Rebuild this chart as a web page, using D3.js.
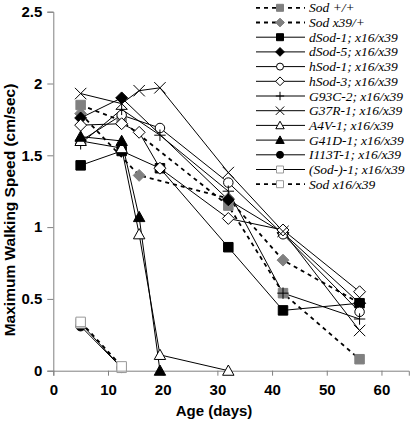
<!DOCTYPE html>
<html>
<head>
<meta charset="utf-8">
<script src="https://cdn.jsdelivr.net/npm/d3@7"></script>
<style>
  html, body { margin: 0; padding: 0; background: #fff; }
  svg { display: block; }
</style>
</head>
<body>
<svg id="chart" width="410" height="424"></svg>
<script>
// ---- data (age in days, max walking speed in cm/sec) ----
const sodWT   = [[5,1.85],[12.5,1.74],[32,1.15],[42,0.54],[56,0.08]];
const sodX39  = [[5,1.79],[15.7,1.36],[32,1.20],[42,0.77],[56,0.47]];
const dSod1   = [[5,1.43],[12.5,1.53],[19.5,1.41],[32,0.86],[42,0.42],[56,0.47]];
const dSod5   = [[5,1.76],[12.5,1.90],[32,1.19],[42,0.96],[56,0.47]];
const hSod1   = [[5,1.60],[12.5,1.78],[19.5,1.69],[32,1.31],[42,0.95],[56,0.41]];
const hSod3   = [[5,1.71],[12.5,1.72],[15.7,1.66],[19.5,1.41],[32,1.06],[42,0.98],[56,0.55]];
const g93c2   = [[5,1.58],[12.5,1.82],[19.5,1.64],[32,1.25],[42,0.54],[56,0.36]];
const g37r1   = [[5,1.93],[12.5,1.86],[15.7,1.95],[19.5,1.97],[32,1.38],[42,0.97],[56,0.28]];
const a4v1    = [[5,1.60],[12.5,1.55],[15.7,0.95],[19.5,0.11],[32,0.00]];
const g41d1   = [[5,1.63],[12.5,1.60],[15.7,1.07],[19.5,0.00]];
const i113t1  = [[5,0.31],[12.5,0.02]];
const sodNull = [[5,0.33],[12.5,0.02]];
const sodX16  = [[5,0.34],[12.5,0.03]];

const seriesNames = ["Sod +/+","Sod x39/+","dSod-1; x16/x39","dSod-5; x16/x39","hSod-1; x16/x39",
  "hSod-3; x16/x39","G93C-2; x16/x39","G37R-1; x16/x39","A4V-1; x16/x39","G41D-1; x16/x39",
  "I113T-1; x16/x39","(Sod-)-1; x16/x39","Sod x16/x39"];
const seriesData = [sodWT,sodX39,dSod1,dSod5,hSod1,hSod3,g93c2,g37r1,a4v1,g41d1,i113t1,sodNull,sodX16];

const xTicks = [0,10,20,30,40,50,60];
const yTicks = [0,0.5,1,1.5,2,2.5];
const yTickLabels = ["0","0.5","1","1.5","2","2.5"];

// ---- styles ----
const styles = [
  {shape:"square",  fill:"#808080", stroke:"#808080", dash:"4,4", lw:1.8},
  {shape:"diamond", fill:"#808080", stroke:"#808080", dash:"4,4", lw:1.8},
  {shape:"square",  fill:"#000", stroke:"#000", dash:null, lw:1},
  {shape:"diamond", fill:"#000", stroke:"#000", dash:null, lw:1},
  {shape:"circle",  fill:"#fff", stroke:"#000", dash:null, lw:1},
  {shape:"diamond", fill:"#fff", stroke:"#000", dash:null, lw:1},
  {shape:"plus",    fill:"none", stroke:"#000", dash:null, lw:1},
  {shape:"x",       fill:"none", stroke:"#000", dash:null, lw:1},
  {shape:"triangle",fill:"#fff", stroke:"#000", dash:null, lw:1},
  {shape:"triangle",fill:"#000", stroke:"#000", dash:null, lw:1},
  {shape:"circle",  fill:"#000", stroke:"#000", dash:null, lw:1},
  {shape:"square",  fill:"#fff", stroke:"#999", dash:null, lw:1},
  {shape:"square",  fill:"#fff", stroke:"#999", dash:"4,4", lw:1.8}
];

function shapePath(shape, s) {
  const h = s/2;
  switch(shape) {
    case "square":   return `M${-h},${-h}H${h}V${h}H${-h}Z`;
    case "diamond":  { const d = h*1.25; return `M0,${-d}L${d},0L0,${d}L${-d},0Z`; }
    case "circle":   return `M${h},0A${h},${h} 0 1,1 ${-h},0A${h},${h} 0 1,1 ${h},0Z`;
    case "triangle": { const t = h*1.2; return `M0,${-t}L${t},${t*0.8}L${-t},${t*0.8}Z`; }
    case "plus":     { const p = h*1.2; return `M${-p},0H${p}M0,${-p}V${p}`; }
    case "x":        { const p = h*1.2; return `M${-p},${-p}L${p},${p}M${p},${-p}L${-p},${p}`; }
  }
}

const svg = d3.select("#chart");
const x = d3.scaleLinear().domain([0,65]).range([53.3,408.8]);
const y = d3.scaleLinear().domain([0,2.5]).range([370.7,11.7]);

// axes
const yAxis = d3.axisLeft(y).tickValues(yTicks).tickFormat((d,i)=>yTickLabels[i]).tickSizeOuter(0).tickSize(6).tickPadding(5);
const xAxis = d3.axisBottom(x).tickValues(xTicks).tickFormat(d=>String(d)).tickSizeOuter(0).tickSize(5).tickPadding(9);

const gy = svg.append("g").attr("transform","translate(53.3,0)").call(yAxis);
const gx = svg.append("g").attr("transform","translate(0,370.7)").call(xAxis);
[gx, gy].forEach(g => {
  g.select(".domain").attr("stroke","#808080").attr("stroke-width",1);
  g.selectAll(".tick line").attr("stroke","#808080");
  g.selectAll(".tick text").attr("fill","#000")
    .style("font-family","'Liberation Sans', Arial, sans-serif")
    .style("font-weight","bold").style("font-size","15px");
});

// axis titles
svg.append("text").attr("x",214).attr("y",416).attr("text-anchor","middle")
  .style("font-family","'Liberation Sans', Arial, sans-serif").style("font-weight","bold").style("font-size","15px")
  .text("Age (days)");
svg.append("text").attr("transform","translate(15,210) rotate(-90)").attr("text-anchor","middle")
  .style("font-family","'Liberation Sans', Arial, sans-serif").style("font-weight","bold").style("font-size","15.5px")
  .text("Maximum Walking Speed (cm/sec)");

// lines
const line = d3.line().x(d=>x(d[0])).y(d=>y(d[1]));
seriesData.forEach((data,i) => {
  const st = styles[i];
  svg.append("path").datum(data).attr("d",line).attr("fill","none")
    .attr("stroke", "#000").attr("stroke-width", st.lw)
    .attr("stroke-dasharray", st.dash);
});
// markers
seriesData.forEach((data,i) => {
  const st = styles[i];
  svg.append("g").selectAll("path").data(data).join("path")
    .attr("transform", d=>`translate(${x(d[0])},${y(d[1])})`)
    .attr("d", shapePath(st.shape, 9.5))
    .attr("fill", st.fill).attr("stroke", st.stroke).attr("stroke-width", 1);
});

// legend
const lg = svg.append("g");
seriesNames.forEach((name,i) => {
  const st = styles[i];
  const cy = 7.8 + i*14.7;
  lg.append("line").attr("x1",256).attr("x2",305).attr("y1",cy).attr("y2",cy)
    .attr("stroke","#000").attr("stroke-width", st.lw).attr("stroke-dasharray", st.dash);
  lg.append("path").attr("transform",`translate(280,${cy})`).attr("d", shapePath(st.shape, 7))
    .attr("fill", st.fill).attr("stroke", st.stroke).attr("stroke-width",1);
  lg.append("text").attr("x",309).attr("y",cy+4.5)
    .style("font-family","'Liberation Serif', 'Times New Roman', serif").style("font-style","italic").style("font-size","13.5px")
    .text(name);
});
</script>
</body>
</html>
